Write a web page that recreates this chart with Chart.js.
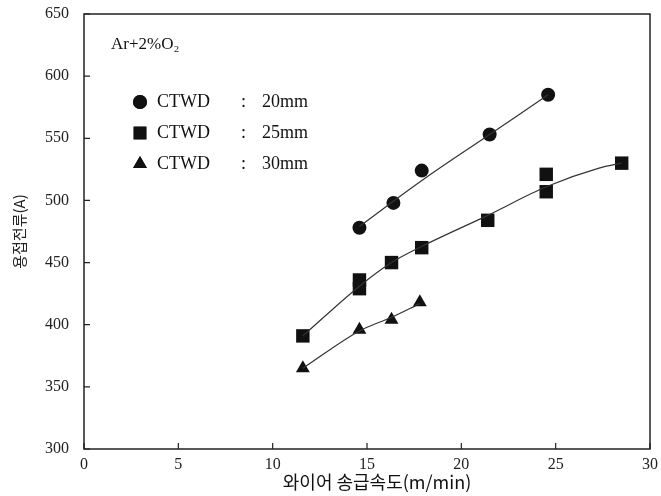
<!DOCTYPE html>
<html>
<head>
<meta charset="utf-8">
<script src="https://cdn.jsdelivr.net/npm/chart.js@4/dist/chart.umd.min.js"></script>
<style>
  html, body { margin: 0; padding: 0; background: #fff; }
  #wrap { width: 661px; height: 496px; }
</style>
</head>
<body>
<div id="wrap"><canvas id="myChart" width="661" height="496"></canvas></div>
<script>
// Dados
const xTicks = [0, 5, 10, 15, 20, 25, 30];
const yTicks = [300, 350, 400, 450, 500, 550, 600, 650];

const speed20 = [14.6, 16.4, 17.9, 21.5, 24.6];
const current20 = [478, 498, 524, 553, 585];
const speed25 = [11.6, 14.6, 14.6, 16.3, 17.9, 21.4, 24.5, 24.5, 28.5];
const current25 = [391, 436, 429, 450, 462, 484, 521, 507, 530];
const speed30 = [11.6, 14.6, 16.3, 17.8];
const current30 = [365, 396, 404, 418];

// curvas ajustadas
const fitSpeed20 = [14.6, 18.0, 21.5, 24.6];
const fitCurrent20 = [479, 517, 553, 585];
const fitSpeed25 = [11.6, 14.6, 16.3, 17.9, 21.4, 24.5, 27.3, 28.5];
const fitCurrent25 = [391, 431, 450, 463, 488, 511, 526, 530];
const fitSpeed30 = [11.6, 14.6, 16.3, 17.8];
const fitCurrent30 = [365, 395, 406, 417];

const legendNames = ["CTWD", "CTWD", "CTWD"];
const legendValues = ["20mm", "25mm", "30mm"];
const gasLabel = "Ar+2%O₂";
const xTitle = "와이어 송급속도(m/min)";

const serif = "'Liberation Serif', 'DejaVu Serif', serif";
const kor = "'Noto Sans CJK KR', sans-serif";

function pts(xs, ys) {
  return xs.map((x, i) => ({ x: x, y: ys[i] }));
}

// desenha moldura, ticks internos, título X e legenda
const framePlugin = {
  id: "frame",
  afterDraw(chart) {
    const c = chart.ctx;
    const a = chart.chartArea;
    const xs = chart.scales.x, ys = chart.scales.y;
    c.save();
    c.strokeStyle = "#222";
    c.lineWidth = 1.5;
    c.strokeRect(a.left, a.top, a.right - a.left, a.bottom - a.top);
    c.lineWidth = 1.2;
    c.beginPath();
    yTicks.forEach(v => {
      const y = ys.getPixelForValue(v);
      c.moveTo(a.left, y); c.lineTo(a.left + 6, y);
    });
    xTicks.forEach(v => {
      const x = xs.getPixelForValue(v);
      c.moveTo(x, a.bottom); c.lineTo(x, a.bottom - 6);
    });
    c.stroke();

    c.fillStyle = "#111";
    c.textBaseline = "middle";
    c.textAlign = "center";
    c.font = "18px " + kor;
    c.fillText(xTitle, 377, 482);

    c.textAlign = "left";
    c.font = "17px " + serif;
    c.fillText(gasLabel, 111, 45);

    c.font = "18px " + serif;
    const styles = ["circle", "rect", "triangle"];
    const rads = [7, 9, 8];
    legendNames.forEach((t, i) => {
      const y = 102 + i * 31;
      Chart.helpers.drawPoint(c, { pointStyle: styles[i], radius: rads[i], borderWidth: 0 }, 140, y);
      c.fill();
      c.fillText(t, 157, y);
      c.fillText(":", 241, y);
      c.fillText(legendValues[i], 262, y);
    });
    c.restore();
  }
};

const marker = {
  showLine: false,
  backgroundColor: "#111",
  borderColor: "#111",
  borderWidth: 0,
};
const curve = {
  showLine: true,
  pointRadius: 0,
  borderColor: "#333",
  borderWidth: 1.2,
  tension: 0.4,
};

const ctx1 = document.getElementById("myChart").getContext("2d");
const myChart = new Chart(ctx1, {
  type: "scatter",
  data: {
    datasets: [
      { ...curve, data: pts(fitSpeed20, fitCurrent20) },
      { ...curve, data: pts(fitSpeed25, fitCurrent25), cubicInterpolationMode: "monotone" },
      { ...curve, data: pts(fitSpeed30, fitCurrent30), cubicInterpolationMode: "monotone" },
      { ...marker, data: pts(speed20, current20), pointStyle: "circle", pointRadius: 7 },
      { ...marker, data: pts(speed25, current25), pointStyle: "rect", pointRadius: 9.5 },
      { ...marker, data: pts(speed30, current30), pointStyle: "triangle", pointRadius: 8 },
    ],
  },
  options: {
    responsive: false,
    animation: false,
    layout: { padding: { top: 14, right: 11, left: 0, bottom: 0 } },
    plugins: { legend: { display: false }, tooltip: { enabled: false } },
    scales: {
      x: {
        type: "linear",
        min: 0, max: 30,
        afterBuildTicks: s => { s.ticks = xTicks.map(v => ({ value: v })); },
        afterFit: s => { s.height = 47; s.paddingLeft = 0; s.paddingRight = 0; },
        grid: { display: false, drawTicks: false },
        border: { display: false },
        ticks: { color: "#222", font: { family: serif, size: 16 }, padding: 6 },
      },
      y: {
        type: "linear",
        min: 300, max: 650,
        afterBuildTicks: s => { s.ticks = yTicks.map(v => ({ value: v })); },
        afterFit: s => { s.width = 84; s.paddingTop = 0; s.paddingBottom = 0; },
        grid: { display: false, drawTicks: false },
        border: { display: false },
        ticks: { color: "#222", font: { family: serif, size: 16 }, padding: 15 },
        title: {
          display: true,
          text: "용접전류(A)",
          color: "#222",
          font: { family: kor, size: 15 },
          padding: { top: 10, bottom: 0 },
        },
      },
    },
  },
  plugins: [framePlugin],
});
</script>
</body>
</html>
